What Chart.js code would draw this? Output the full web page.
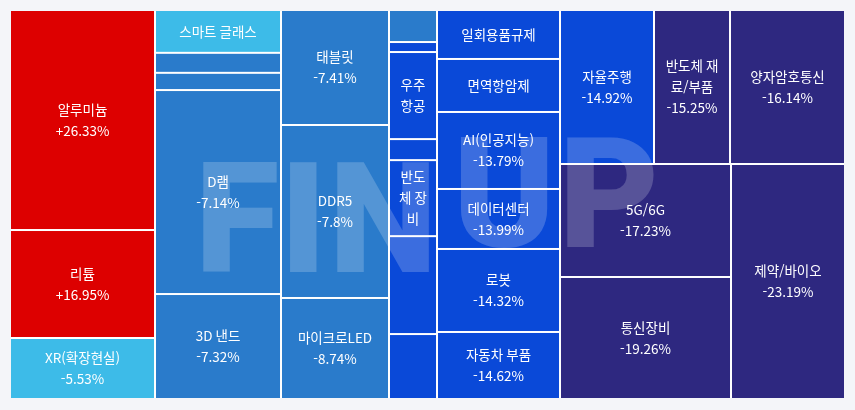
<!DOCTYPE html>
<html lang="ko">
<head>
<meta charset="utf-8">
<title>테마 등락률 트리맵</title>
<script src="https://cdn.jsdelivr.net/npm/chart.js@4.4.1/dist/chart.umd.min.js"></script>
<style>
	html, body { margin: 0; padding: 0; background: #f4f5f9; }
	canvas { display: block; }
</style>
</head>
<body>
<canvas id="treemap" width="855" height="410"></canvas>
<script>
// 테마 이름 (빈 문자열 = 칸이 작아서 라벨이 안 보이는 테마)
var themeNames = [
	"알루미늄", "리튬", "XR(확장현실)",
	"스마트 글래스", "", "", "D램", "3D 낸드",
	"태블릿", "DDR5", "마이크로LED",
	"", "", "우주항공", "", "반도체 장비", "", "",
	"일회용품규제", "면역항암제", "AI(인공지능)", "데이터센터", "로봇", "자동차 부품",
	"자율주행", "반도체 재료/부품", "양자암호통신", "5G/6G", "통신장비", "제약/바이오"
];

// 등락률 (%)
var themeChanges = [
	26.33, 16.95, -5.53,
	-5.9, -7.02, -7.09, -7.14, -7.32,
	-7.41, -7.8, -8.74,
	-9.5, -10.3, -10.9, -11.4, -11.9, -12.5, -13.1,
	-13.4, -13.6, -13.79, -13.99, -14.32, -14.62,
	-14.92, -15.25, -16.14, -17.23, -19.26, -23.19
];

// 칸 크기 (면적 비중)
var themeSizes = [
	315.4, 155.5, 86.4,
	52.7, 25.2, 21.7, 257.0, 131.0,
	123.1, 186.8, 108.0,
	14.9, 4.8, 41.8, 10.1, 36.5, 47.0, 30.7,
	59.0, 65.2, 94.7, 73.8, 102.1, 81.2,
	143.8, 116.3, 174.4, 193.2, 206.9, 264.4
];

// 배치 순서: 깊이마다 가로/세로로 번갈아 나눔
var themeGroups = [
	[0, 1, 2],
	[3, 4, 5, 6, 7],
	[8, 9, 10],
	[11, 12, 13, 14, 15, 16, 17],
	[18, 19, 20, 21, 22, 23],
	[[24, 25, 26], [[27, 28], 29]]
];

var LINE_H = 21;
var PAD_X = 6;
var LABEL_FONT = '13.5px "Noto Sans CJK KR", "Noto Sans", sans-serif';


function cellColor(c) {
	if (c >= 0) return "#dd0000";
	if (c > -7) return "#3dbbe8";
	if (c > -10) return "#2a7bcb";
	if (c > -15) return "#0a49d8";
	return "#2e2880";
}

function nodeWeight(node) {
	if (typeof node === "number") return themeSizes[node];
	return node.reduce(function(s, n) { return s + nodeWeight(n); }, 0);
}

function placeNodes(node, x0, y0, x1, y1, depth, out) {
	if (typeof node === "number") {
		out.push({ i: node, x0: x0, y0: y0, x1: x1, y1: y1 });
		return;
	}
	var total = nodeWeight(node);
	var horizontal = depth % 2 === 0;
	var pos = horizontal ? x0 : y0;
	node.forEach(function(n) {
		var span = nodeWeight(n) / total * (horizontal ? x1 - x0 : y1 - y0);
		if (horizontal) placeNodes(n, pos, y0, pos + span, y1, depth + 1, out);
		else placeNodes(n, x0, pos, x1, pos + span, depth + 1, out);
		pos += span;
	});
}

function wrapText(ctx, text, maxW) {
	var lines = [];
	var line = "";
	for (var k = 0; k < text.length; k++) {
		var ch = text[k];
		if (line !== "" && ctx.measureText(line + ch).width > maxW) {
			lines.push(line.trim());
			line = ch === " " ? "" : ch;
		} else {
			line += ch;
		}
	}
	if (line.trim() !== "") lines.push(line.trim());
	return lines;
}

function formatChange(c) {
	return (c > 0 ? "+" : "") + c + "%";
}

// 워터마크 글자 (FIN / UP)
function drawWatermark(ctx) {
	ctx.save();
	ctx.font = '900 154px Roboto, "Liberation Sans", sans-serif';
	ctx.fillStyle = "rgba(255, 255, 255, 0.2)";
	ctx.textAlign = "left";
	ctx.textBaseline = "alphabetic";
	var letters = [["F", 203, 272], ["I", 290, 272], ["N", 337, 272], ["U", 460, 247], ["P", 567, 247]];
	letters.forEach(function(l) {
		var m = ctx.measureText(l[0]);
		ctx.fillText(l[0], l[1] + m.actualBoundingBoxLeft, l[2]);
	});
	ctx.restore();
}


var treemapPlugin = {
	id: "treemapCells",
	afterDatasetsDraw: function(chart) {
		var ctx = chart.ctx;
		var xs = chart.scales.x;
		var ys = chart.scales.y;
		var area = chart.chartArea;
		var cells = [];
		placeNodes(themeGroups, 0, 0, 1, 1, 0, cells);

		var eps = 1e-6;
		cells.forEach(function(c) {
			c.left = c.x0 < eps ? area.left : xs.getPixelForValue(c.x0) + 1;
			c.right = c.x1 > 1 - eps ? area.right : xs.getPixelForValue(c.x1) - 1;
			c.top = c.y0 < eps ? area.top : ys.getPixelForValue(c.y0) + 1;
			c.bottom = c.y1 > 1 - eps ? area.bottom : ys.getPixelForValue(c.y1) - 1;
		});

		ctx.save();
		ctx.fillStyle = "#ffffff";
		ctx.fillRect(area.left, area.top, area.right - area.left, area.bottom - area.top);
		cells.forEach(function(c) {
			ctx.fillStyle = cellColor(themeChanges[c.i]);
			ctx.fillRect(c.left, c.top, c.right - c.left, c.bottom - c.top);
		});
		ctx.restore();

		drawWatermark(ctx);

		// 라벨
		ctx.save();
		ctx.font = LABEL_FONT;
		ctx.fillStyle = "#ffffff";
		ctx.textAlign = "center";
		ctx.textBaseline = "middle";
		cells.forEach(function(c) {
			var name = themeNames[c.i];
			if (!name) return;
			var w = c.right - c.left;
			var h = c.bottom - c.top;
			var maxW = w - PAD_X * 2;
			var lines = wrapText(ctx, name, maxW);
			var pct = formatChange(themeChanges[c.i]);
			var withPct = lines.concat([pct]);
			var show = null;
			if (ctx.measureText(pct).width <= maxW && withPct.length * LINE_H + 10 <= h) show = withPct;
			else if (lines.length * LINE_H + 10 <= h) show = lines;
			if (!show) return;
			var cx = (c.left + c.right) / 2;
			var top = (c.top + c.bottom) / 2 - show.length * LINE_H / 2;
			show.forEach(function(t, k) {
				ctx.fillText(t, cx, top + LINE_H * (k + 0.5));
			});
		});
		ctx.restore();
	}
};


var ctx = document.getElementById("treemap").getContext("2d");
var treemapChart = new Chart(ctx, {
	type: "scatter",
	data: { datasets: [{ data: [] }] },
	options: {
		responsive: false,
		animation: false,
		layout: { padding: { left: 11, top: 11, right: 11, bottom: 12 } },
		plugins: {
			legend: { display: false },
			tooltip: { enabled: false }
		},
		scales: {
			x: { type: "linear", min: 0, max: 1, display: false },
			y: { type: "linear", min: 0, max: 1, reverse: true, display: false }
		}
	},
	plugins: [treemapPlugin]
});
</script>
</body>
</html>
